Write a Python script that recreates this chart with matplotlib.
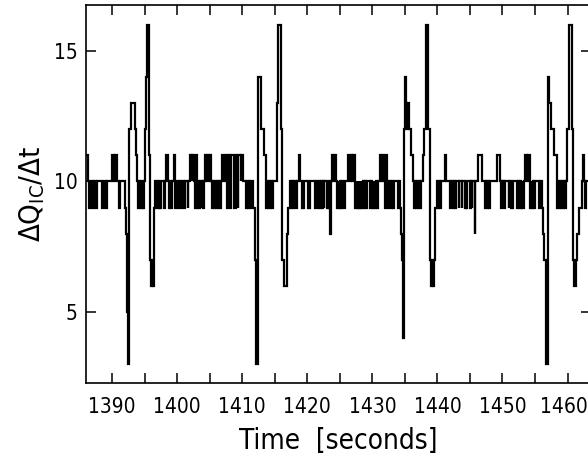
import matplotlib
matplotlib.use('Agg')
import matplotlib.pyplot as plt
import matplotlib.transforms as mtransforms
from matplotlib.ticker import MultipleLocator
import numpy as np

# step series: time where each level starts (s) and the level (counts per bin)
change_times = [
    1386.00, 1386.25, 1386.50, 1386.75, 1387.00, 1387.25, 1387.50, 1387.75,
    1388.50, 1388.75, 1389.00, 1389.25, 1390.00, 1390.25, 1390.50, 1390.75,
    1391.00, 1391.25,
    # event 1
    1391.95, 1392.20, 1392.35, 1392.50, 1392.65, 1392.85, 1393.60, 1393.75,
    1393.90, 1394.05, 1394.20, 1394.30, 1394.45, 1394.55, 1394.70, 1394.80,
    1394.90, 1395.00, 1395.20, 1395.35, 1395.70, 1395.90, 1396.00, 1396.15,
    1396.25, 1396.40,
    1396.60, 1396.90, 1397.05, 1397.15, 1397.30, 1397.40, 1397.60, 1398.00,
    1398.15, 1398.30, 1398.60, 1398.75, 1398.90, 1399.10, 1399.25, 1399.50,
    1399.65, 1399.75, 1399.90, 1400.10, 1400.25, 1400.60, 1400.75, 1401.00,
    1401.15, 1401.60, 1401.75, 1402.00, 1402.25, 1402.35, 1402.60, 1402.70,
    1402.85, 1403.00, 1403.10, 1403.25, 1403.40, 1403.55, 1403.75, 1403.90,
    1404.05, 1404.20, 1404.30, 1404.50, 1404.60, 1404.90, 1405.00, 1405.25,
    1405.35, 1405.55, 1405.65, 1405.85, 1405.95, 1406.15, 1406.25, 1406.50,
    1406.60, 1406.80, 1406.90, 1407.10, 1407.40, 1407.60, 1407.70, 1407.85,
    1408.10, 1408.20, 1408.35, 1408.70, 1408.80, 1409.00, 1409.20, 1409.30,
    1409.40, 1409.75, 1409.85, 1410.20, 1410.55, 1410.70, 1410.85, 1411.00,
    1411.15, 1411.30,
    # event 2
    1411.60, 1411.90, 1412.15, 1412.45, 1412.90, 1413.30, 1413.60, 1413.70,
    1413.85, 1413.95, 1414.15, 1414.25, 1414.45, 1414.55, 1414.75, 1415.30,
    1415.55, 1415.95, 1416.15, 1416.35, 1416.85, 1417.05, 1417.30,
    1417.50, 1417.65, 1417.85, 1418.00, 1418.20, 1418.35, 1418.70, 1418.85,
    1419.15, 1419.30, 1419.40, 1419.50, 1420.10, 1420.20, 1420.30, 1420.45,
    1421.15, 1421.30, 1421.70, 1421.85, 1421.95, 1422.10, 1422.20, 1422.35,
    1422.50, 1422.60, 1423.05, 1423.15, 1423.25, 1423.35, 1423.45, 1423.60,
    1423.80, 1424.00, 1424.10, 1424.45, 1424.60, 1424.80, 1424.90, 1425.10,
    1425.20, 1425.40, 1425.50, 1425.75, 1426.30, 1426.55, 1426.65, 1426.85,
    1427.00, 1427.30, 1427.40, 1427.60, 1427.70, 1427.90, 1428.00, 1428.20,
    1428.30, 1428.55, 1428.65, 1428.85, 1428.95, 1429.15, 1429.70, 1429.85,
    1430.00, 1430.20, 1430.30, 1430.50, 1430.65, 1430.85, 1431.20, 1431.40,
    1431.50, 1431.80, 1431.90, 1432.05, 1432.30, 1432.45, 1432.60, 1432.90,
    1433.05, 1433.20, 1433.35, 1433.90, 1434.05, 1434.20,
    # event 3
    1434.35, 1434.55, 1434.70, 1434.90, 1435.05, 1435.20, 1435.40, 1435.50,
    1435.70, 1435.95, 1436.30, 1436.45, 1436.60, 1436.70, 1436.90, 1437.00,
    1437.20, 1437.30, 1437.50, 1437.85, 1438.00, 1438.20, 1438.60, 1438.80,
    1439.00, 1439.15, 1439.30, 1439.55, 1439.70, 1439.90,
    1440.10, 1440.25, 1440.35, 1440.50, 1441.15, 1441.35, 1441.95, 1442.10,
    1442.45, 1442.55, 1442.65, 1442.80, 1443.25, 1443.35, 1443.75, 1443.85,
    1444.25, 1444.35, 1444.45, 1444.60, 1445.05, 1445.15, 1445.25, 1445.35,
    1445.70, 1445.85, 1446.30, 1446.85, 1447.35, 1447.50, 1447.65, 1447.80,
    1447.95, 1448.15, 1449.15, 1449.65, 1449.75, 1449.90, 1450.05, 1450.15,
    1450.30, 1450.45, 1450.95, 1451.05, 1451.30, 1451.40, 1451.50, 1451.60,
    1452.30, 1452.45, 1452.55, 1452.70, 1452.80, 1452.95, 1453.05, 1453.25,
    1453.50, 1453.70, 1453.85, 1454.15, 1454.35, 1454.45, 1454.65, 1454.80,
    1454.95, 1455.55, 1455.75, 1456.00,
    # event 4
    1456.20, 1456.45, 1456.70, 1456.95, 1457.15, 1457.50, 1457.85, 1458.30,
    1458.40, 1458.55, 1458.65, 1458.85, 1458.95, 1459.15, 1459.25, 1459.45,
    1459.55, 1459.75, 1459.95, 1460.15, 1460.25, 1460.70, 1460.90, 1461.00,
    1461.30, 1461.50, 1461.75, 1462.20, 1462.40, 1462.55, 1462.70, 1462.90,
]
levels = [
    11, 10, 9, 10, 9, 10, 9, 10,
    9, 10, 9, 10, 11, 10, 11, 10,
    9, 10,
    9, 8, 5, 3, 12, 13, 12, 11,
    10, 9, 10, 9, 10, 9, 10, 9,
    10, 12, 14, 16, 11, 7, 6, 7,
    6, 9,
    10, 9, 10, 9, 10, 9, 10, 9,
    10, 11, 10, 9, 10, 9, 10, 11,
    10, 9, 10, 9, 10, 9, 10, 9,
    10, 9, 10, 11, 10, 11, 10, 9,
    11, 10, 9, 10, 9, 10, 9, 10,
    9, 10, 11, 10, 11, 10, 11, 10,
    9, 10, 9, 10, 9, 10, 9, 10,
    9, 10, 11, 10, 11, 10, 9, 11,
    10, 9, 11, 10, 9, 11, 10, 9,
    11, 10, 11, 10, 9, 10, 9, 10,
    9, 10,
    9, 7, 3, 14, 12, 11, 10, 9,
    10, 9, 10, 9, 10, 9, 10, 13,
    16, 12, 7, 6, 8, 9, 10,
    9, 10, 9, 10, 9, 10, 11, 10,
    9, 10, 9, 10, 9, 10, 9, 10,
    9, 10, 9, 10, 9, 10, 9, 10,
    9, 10, 9, 10, 9, 10, 8, 10,
    11, 10, 11, 10, 9, 10, 9, 10,
    9, 10, 9, 10, 11, 10, 11, 10,
    11, 10, 9, 10, 9, 10, 9, 10,
    9, 10, 9, 10, 9, 10, 9, 10,
    9, 10, 9, 10, 9, 10, 11, 10,
    11, 10, 9, 11, 10, 9, 10, 9,
    10, 9, 10, 9, 10, 9,
    8, 7, 4, 12, 14, 13, 12, 13,
    12, 11, 10, 9, 10, 9, 10, 9,
    10, 9, 10, 11, 12, 16, 12, 7,
    6, 7, 6, 7, 9, 10,
    9, 10, 9, 10, 11, 10, 9, 10,
    9, 10, 9, 10, 9, 10, 9, 10,
    9, 10, 9, 10, 9, 10, 9, 10,
    8, 10, 11, 10, 9, 10, 9, 10,
    9, 10, 11, 10, 9, 10, 9, 10,
    9, 10, 9, 10, 9, 10, 9, 10,
    9, 10, 9, 10, 9, 10, 9, 10,
    11, 10, 11, 9, 10, 9, 10, 9,
    10, 9, 10, 9,
    8, 7, 3, 14, 13, 12, 11, 10,
    9, 10, 9, 10, 9, 10, 9, 10,
    9, 10, 12, 14, 16, 12, 7, 6,
    7, 8, 9, 10, 11, 10, 9, 10,
]
end_time = 1463.6

plt.rcParams['font.family'] = ['DejaVu Sans']
plt.rcParams['font.stretch'] = 'condensed'
plt.rcParams['mathtext.fontset'] = 'dejavusans'

edges = np.append(change_times, end_time)

fig = plt.figure(figsize=(5.88, 4.57), dpi=100)
ax = fig.add_axes([86 / 588, 1 - 383 / 457, (591 - 86) / 588, (383 - 5) / 457])
ax.stairs(levels, edges, baseline=None, color='black', linewidth=1.6)

ax.set_xlim(1386, 1463.6)
ax.set_ylim(2.28, 16.76)
ax.xaxis.set_major_locator(MultipleLocator(10))
ax.xaxis.set_minor_locator(MultipleLocator(5))
ax.yaxis.set_major_locator(MultipleLocator(5))
ax.tick_params(which='both', direction='in', top=True, right=True,
               length=7, width=1.1, labelsize=15)
ax.tick_params(axis='x', which='both', pad=10)
ax.tick_params(axis='y', pad=6)
for side in ax.spines.values():
    side.set_linewidth(1.2)

ax.set_xlabel('Time  [seconds]', fontsize=20, labelpad=7)
ax.set_ylabel(r'$\Delta$Q$_{\mathrm{IC}}$/$\Delta$t', fontsize=21, labelpad=5)

# last tick label sits at the right edge: nudge it inside the canvas
nudge = mtransforms.ScaledTranslation(-4 / 100, 0, fig.dpi_scale_trans)
for loc, tick in zip(ax.get_xticks(), ax.xaxis.get_major_ticks()):
    if loc == 1460:
        tick.label1.set_transform(tick.label1.get_transform() + nudge)

fig.savefig('out.png', dpi=100)
